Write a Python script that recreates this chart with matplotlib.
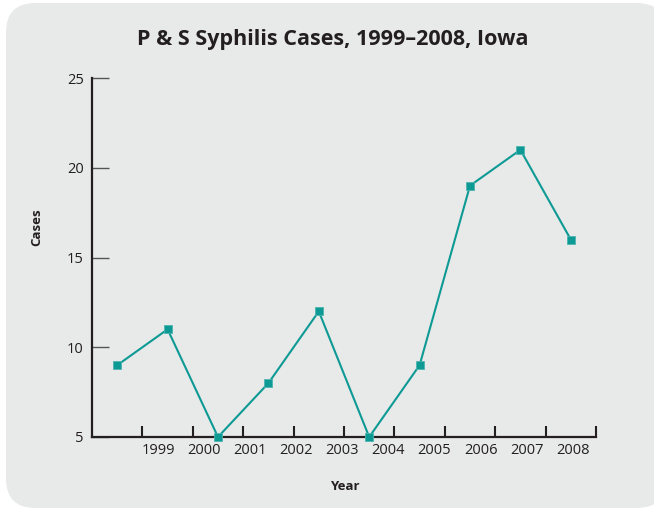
import numpy as np
import matplotlib
matplotlib.use("Agg")
import matplotlib.pyplot as plt
from matplotlib.patches import FancyBboxPatch

plt.rcParams['font.family'] = ['Open Sans', 'DejaVu Sans']

# data
years = ['1999', '2000', '2001', '2002', '2003', '2004', '2005', '2006', '2007', '2008']
cases = [9, 11, 5, 8, 12, 5, 9, 19, 21, 16]
y_ticks = [5, 10, 15, 20, 25]

axis_color = '#231f20'
line_color = '#0e9a94'
bg_color = '#e8e9e9'

fig = plt.figure(figsize=(6.54, 5.08), dpi=100)
fig.patch.set_facecolor('white')

# rounded panel behind the chart
panel = FancyBboxPatch((6 / 654, 0.0), 660 / 654, 505 / 508,
                       boxstyle="round,pad=0,rounding_size=0.045",
                       transform=fig.transFigure, facecolor=bg_color,
                       edgecolor='none', zorder=-5, mutation_aspect=654 / 508)
fig.patches.append(panel)

ax = fig.add_axes([92 / 654, 1 - 437 / 508, 504 / 654, 359 / 508])
ax.set_facecolor('none')
ax.set_zorder(2)

# points sit in the middle of each year slot
xpos = np.arange(len(years)) + 0.5
ax.plot(xpos, cases, color=line_color, lw=1.5, marker='s', markersize=5.5,
        markerfacecolor=line_color, markeredgecolor='#4db5b0',
        markeredgewidth=0.6, clip_on=False, zorder=3)

ax.set_xlim(0, len(years))
ax.set_ylim(y_ticks[0], y_ticks[-1])
for side in ['top', 'right']:
    ax.spines[side].set_visible(False)
for side in ['left', 'bottom']:
    ax.spines[side].set_color(axis_color)
    ax.spines[side].set_linewidth(1.6)

ax.set_yticks(y_ticks)
ax.set_yticklabels([str(t) for t in y_ticks], va='center_baseline')
ax.tick_params(axis='y', direction='in', length=12, width=1.0,
               color='#555555', labelsize=10.5, labelcolor=axis_color, pad=6)

# year ticks stand on the slot borders, labels drift slightly left
ax.set_xticks(np.arange(1, len(years) + 1))
ax.set_xticklabels([])
ax.tick_params(axis='x', direction='in', length=8, width=1.5, color=axis_color)
label_pos = np.linspace(1.31, 9.54, len(years))
for p, yr in zip(label_pos, years):
    ax.text(p, -0.018, yr, transform=ax.get_xaxis_transform(),
            ha='center', va='top', fontsize=10.5, color=axis_color)

fig.text(333 / 654, 1 - 40 / 508, 'P & S Syphilis Cases, 1999\u20132008, Iowa',
         ha='center', va='center', fontsize=15.5, fontweight='bold',
         color=axis_color)
fig.text(37 / 654, 1 - 227 / 508, 'Cases', rotation=90, ha='center',
         va='center', fontsize=9.5, fontweight='bold', color=axis_color)
fig.text(345 / 654, 1 - 487 / 508, 'Year', ha='center', va='center',
         fontsize=9.5, fontweight='bold', color=axis_color)

plt.savefig('out.png', dpi=100, facecolor=fig.get_facecolor())
